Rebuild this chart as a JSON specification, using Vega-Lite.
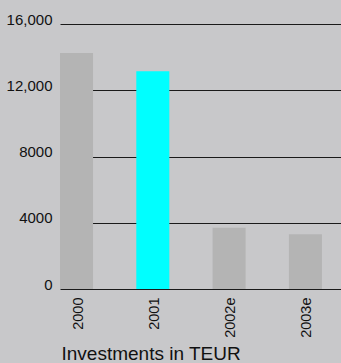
{
  "$schema": "https://vega.github.io/schema/vega-lite/v6.json",
  "width": 281,
  "height": 265,
  "autosize": {"type": "none"},
  "padding": {"left": 60, "top": 24, "right": 0, "bottom": 74},
  "background": "#c8c8ca",
  "config": {"view": {"stroke": null}},
  "data": {
    "values": [
      {"year": "2000", "value": 14250, "highlight": "no"},
      {"year": "2001", "value": 13150, "highlight": "yes"},
      {"year": "2002e", "value": 3700, "highlight": "no"},
      {"year": "2003e", "value": 3300, "highlight": "no"}
    ]
  },
  "mark": {"type": "bar"},
  "encoding": {
    "x": {
      "field": "year",
      "type": "nominal",
      "sort": null,
      "scale": {"paddingInner": 0.567, "paddingOuter": 0.125, "align": 0},
      "axis": {
        "domain": false,
        "ticks": false,
        "labelAngle": -90,
        "labelPadding": 8,
        "labelFont": "Liberation Sans",
        "labelFontSize": 14.5,
        "labelColor": "#111111",
        "labelOffset": 2,
        "title": "Investments in TEUR",
        "titleFont": "Liberation Sans",
        "titleFontSize": 19,
        "titleFontWeight": "normal",
        "titleColor": "#111111",
        "titleAnchor": "start",
        "titleAlign": "left",
        "titleBaseline": "alphabetic",
        "titleX": 1,
        "titleY": 70
      }
    },
    "y": {
      "field": "value",
      "type": "quantitative",
      "scale": {"domain": [0, 16000], "nice": false},
      "axis": {
        "values": [0, 4000, 8000, 12000, 16000],
        "grid": true,
        "gridColor": "#1a1a1a",
        "gridWidth": 1.2,
        "domain": false,
        "ticks": false,
        "labelPadding": 8,
        "labelBaseline": "alphabetic",
        "labelFont": "Liberation Sans",
        "labelFontSize": 15,
        "labelColor": "#111111",
        "labelExpr": "datum.value >= 10000 ? format(datum.value, ',') : format(datum.value, 'd')",
        "title": null
      }
    },
    "color": {
      "field": "highlight",
      "type": "nominal",
      "scale": {"domain": ["no", "yes"], "range": ["#b4b4b4", "#00ffff"]},
      "legend": null
    }
  }
}
